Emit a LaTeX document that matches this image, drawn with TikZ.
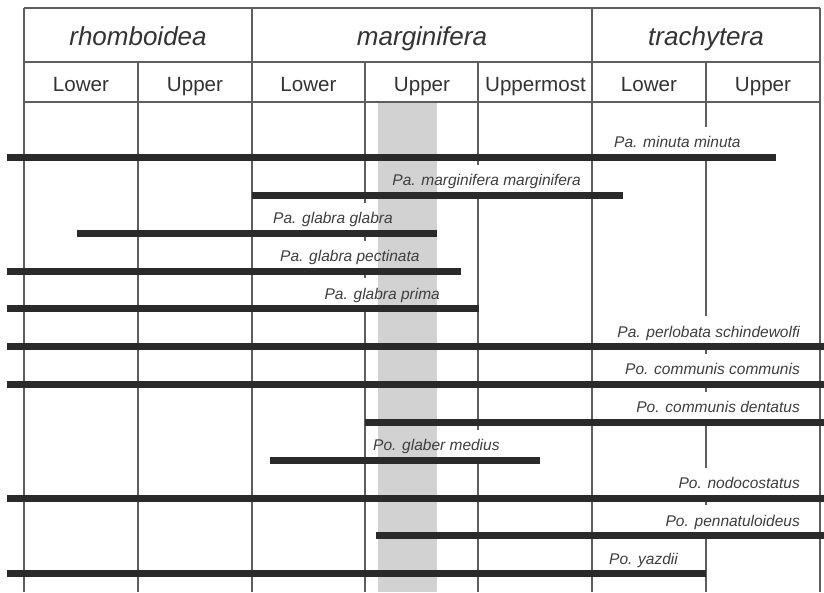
\documentclass[tikz,border=0pt]{standalone}
\usepackage{fontspec}
\setmainfont{Liberation Sans}
\definecolor{gridc}{HTML}{5E5E5E}
\definecolor{barc}{HTML}{2A2A2A}
\definecolor{bandc}{HTML}{D2D2D2}
\definecolor{labc}{HTML}{3E3E3E}
\definecolor{headc}{HTML}{333333}
\tikzset{
  gridline/.style={draw=gridc, line width=1.5pt},
  rangebar/.style={draw=barc, line width=7pt, line cap=butt},
  zonehead/.style={font=\fontsize{26}{30}\selectfont\itshape, text=headc, anchor=base, inner sep=0pt},
  subhead/.style={font=\fontsize{20.6}{24}\selectfont, text=headc, anchor=base, inner sep=0pt},
  taxon/.style={font=\fontsize{15.5}{18}\selectfont\itshape, text=labc, inner xsep=2pt, inner ysep=1pt}
}
\begin{document}
\begin{tikzpicture}[x=1pt,y=-1pt]
\useasboundingbox (0,0) rectangle (824,592);
\fill[white] (0,0) rectangle (824,592);

% shaded interval
\fill[bandc] (378,102) rectangle (437,592);

% grid (vertical lines interrupted behind the labels)
\draw[gridline] (24,8) -- (820,8);
\draw[gridline] (24,62) -- (820,62);
\draw[gridline] (24,102) -- (820,102);
\foreach \x in {24,252,592,820} \draw[gridline] (\x,8) -- (\x,592);
\draw[gridline] (138,62) -- (138,592);
\draw[gridline] (365,62) -- (365,202.5) (365,233) -- (365,240.5)
  (365,271) -- (365,278) (365,308.5) -- (365,592);
\draw[gridline] (478,62) -- (478,164.5) (478,195) -- (478,429.5)
  (478,460) -- (478,592);
\draw[gridline] (706,62) -- (706,126.5) (706,157) -- (706,316)
  (706,346.5) -- (706,353.5) (706,384) -- (706,391.5)
  (706,422) -- (706,467.5) (706,498) -- (706,505)
  (706,535.5) -- (706,592);

% headers
\node[zonehead] (zr) at (138,45) {rhomboidea};
\node[zonehead] (zm) at (422,45) {marginifera};
\node[zonehead] (zt) at (706,45) {trachytera};
\node[subhead] (s1) at (81,91) {Lower};
\node[subhead] (s2) at (195,91) {Upper};
\node[subhead] (s3) at (308.5,91) {Lower};
\node[subhead] (s4) at (422,91) {Upper};
\node[subhead] (s5) at (535.5,91) {Uppermost};
\node[subhead] (s6) at (649,91) {Lower};
\node[subhead] (s7) at (763,91) {Upper};

% taxon labels
\node[taxon, anchor=base west] (l1) at (612,147.5) {Pa. minuta minuta};
\node[taxon, anchor=base east] (l2) at (583,185.5) {Pa. marginifera marginifera};
\node[taxon, anchor=base west] (l3) at (271,223.5) {Pa. glabra glabra};
\node[taxon, anchor=base west] (l4) at (278,261.5) {Pa. glabra pectinata};
\node[taxon, anchor=base east] (l5) at (442,299) {Pa. glabra prima};
\node[taxon, anchor=base east] (l6) at (802,337) {Pa. perlobata schindewolfi};
\node[taxon, anchor=base east] (l7) at (802,374.5) {Po. communis communis};
\node[taxon, anchor=base east] (l8) at (802,412.5) {Po. communis dentatus};
\node[taxon, anchor=base west] (l9) at (371,450.5) {Po. glaber medius};
\node[taxon, anchor=base east] (l10) at (802,488.5) {Po. nodocostatus};
\node[taxon, anchor=base east] (l11) at (802,526) {Po. pennatuloideus};
\node[taxon, anchor=base west] (l12) at (607,564) {Po. yazdii};

% range bars
\draw[rangebar] (7,157) -- (776,157);
\draw[rangebar] (252,195) -- (623,195);
\draw[rangebar] (77,233) -- (437,233);
\draw[rangebar] (7,271) -- (461,271);
\draw[rangebar] (7,308.5) -- (479,308.5);
\draw[rangebar] (7,346.5) -- (824,346.5);
\draw[rangebar] (7,384) -- (824,384);
\draw[rangebar] (365,422) -- (824,422);
\draw[rangebar] (270,460) -- (540,460);
\draw[rangebar] (7,498) -- (824,498);
\draw[rangebar] (376,535.5) -- (824,535.5);
\draw[rangebar] (7,573.5) -- (706,573.5);
\end{tikzpicture}
\end{document}
